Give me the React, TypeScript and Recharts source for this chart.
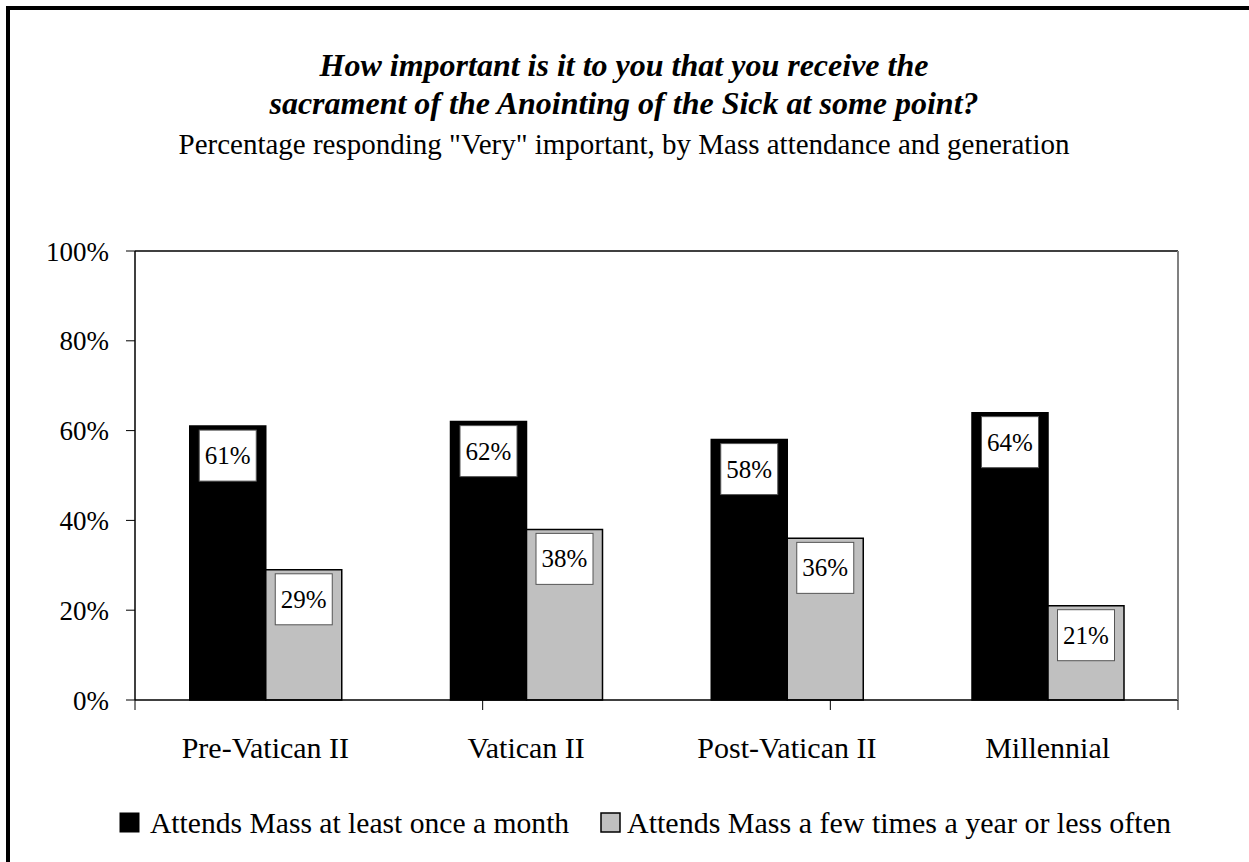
import React from "react";
import { BarChart, Bar, XAxis, YAxis } from "recharts";

const categories = ["Pre-Vatican II", "Vatican II", "Post-Vatican II", "Millennial"];
const monthly = [61, 62, 58, 64];
const yearly = [29, 38, 36, 21];
const seriesNames = [
  "Attends Mass at least once a month",
  "Attends Mass a few times a year or less often",
];
const seriesColors = ["#000000", "#c0c0c0"];
const yTicks = [0, 20, 40, 60, 80, 100];
const titleLines = [
  "How important is it to you that you receive the",
  "sacrament of the Anointing of the Sick at some point?",
];
const subtitle = 'Percentage responding "Very" important, by Mass attendance and generation';

const FONT = '"Liberation Serif", "Times New Roman", serif';

const data = categories.map((name, i) => ({
  name,
  monthly: monthly[i],
  yearly: yearly[i],
}));

// White box with the value, sitting just inside the top of the bar
function BoxLabel(props: any) {
  const vb = props.viewBox || {};
  const x = props.x ?? vb.x ?? 0;
  const y = props.y ?? vb.y ?? 0;
  const width = props.width ?? vb.width ?? 0;
  const bw = 57;
  const bh = 51;
  const cx = x + width / 2;
  const top = y + 4;
  return (
    <g>
      <rect x={cx - bw / 2} y={top} width={bw} height={bh} fill="#fff" stroke="#555" strokeWidth={1} />
      <text
        x={cx}
        y={top + bh / 2}
        textAnchor="middle"
        dominantBaseline="central"
        fontFamily={FONT}
        fontSize={25}
        fill="#000"
      >
        {props.value}%
      </text>
    </g>
  );
}

export default function App() {
  return (
    <div style={{ position: "absolute", left: 0, top: 0, width: 1249, height: 862, overflow: "hidden", background: "#fff" }}>
      {/* frame, right and bottom edges run off the picture */}
      <div
        style={{
          position: "absolute",
          left: 6,
          top: 6,
          width: 1300,
          height: 900,
          border: "4px solid #000",
          boxSizing: "border-box",
        }}
      />
      <svg width={1249} height={862} style={{ position: "absolute", left: 0, top: 0 }}>
        <text x={624} y={76} textAnchor="middle" fontFamily={FONT} fontSize={32} fontWeight="bold" fontStyle="italic">
          {titleLines[0]}
        </text>
        <text x={624} y={114} textAnchor="middle" fontFamily={FONT} fontSize={32} fontWeight="bold" fontStyle="italic">
          {titleLines[1]}
        </text>
        <text x={624} y={154} textAnchor="middle" fontFamily={FONT} fontSize={29}>
          {subtitle}
        </text>
        {/* legend */}
        <rect x={120} y={813} width={19} height={19} fill={seriesColors[0]} stroke="#000" />
        <text x={150} y={833} fontFamily={FONT} fontSize={29.6}>
          {seriesNames[0]}
        </text>
        <rect x={601} y={813} width={19} height={19} fill={seriesColors[1]} stroke="#000" strokeWidth={1.5} />
        <text x={627} y={833} fontFamily={FONT} fontSize={30}>
          {seriesNames[1]}
        </text>
      </svg>
      <div style={{ position: "absolute", left: 0, top: 0 }}>
        <BarChart
          width={1249}
          height={862}
          data={data}
          margin={{ top: 250, right: 70, bottom: 160, left: 35 }}
          barCategoryGap="21%"
          barGap={0}
        >
          <XAxis
            xAxisId="bounds"
            type="number"
            domain={[0, 4]}
            ticks={[0, 1, 2, 3, 4]}
            height={1}
            tick={() => <g />}
            tickSize={10}
            tickLine={{ stroke: "#000" }}
            axisLine={{ stroke: "#000", strokeWidth: 1.5 }}
          />
          <XAxis
            xAxisId="cat"
            dataKey="name"
            height={1}
            axisLine={false}
            tickLine={false}
            tickSize={6}
            tickMargin={30}
            tick={{ fill: "#000", fontSize: 30, fontFamily: FONT }}
          />
          <XAxis
            xAxisId="top"
            orientation="top"
            type="number"
            domain={[0, 1]}
            height={1}
            tick={false}
            tickLine={false}
            axisLine={{ stroke: "#000", strokeWidth: 1.5 }}
          />
          <YAxis
            yAxisId="pct"
            domain={[0, 100]}
            ticks={yTicks}
            width={100}
            tickSize={9}
            tickMargin={17}
            tickFormatter={(v: number) => `${v}%`}
            tick={{ fill: "#000", fontSize: 27, fontFamily: FONT }}
            tickLine={{ stroke: "#000" }}
            axisLine={{ stroke: "#000", strokeWidth: 1.5 }}
          />
          <YAxis
            yAxisId="right"
            orientation="right"
            width={1}
            tick={false}
            tickLine={false}
            axisLine={{ stroke: "#808080", strokeWidth: 2 }}
          />
          <Bar
            xAxisId="cat"
            yAxisId="pct"
            dataKey="monthly"
            name={seriesNames[0]}
            fill={seriesColors[0]}
            stroke="#000"
            strokeWidth={1.5}
            isAnimationActive={false}
            label={(p: any) => <BoxLabel {...p} />}
          />
          <Bar
            xAxisId="cat"
            yAxisId="pct"
            dataKey="yearly"
            name={seriesNames[1]}
            fill={seriesColors[1]}
            stroke="#000"
            strokeWidth={1.5}
            isAnimationActive={false}
            label={(p: any) => <BoxLabel {...p} />}
          />
        </BarChart>
      </div>
    </div>
  );
}
